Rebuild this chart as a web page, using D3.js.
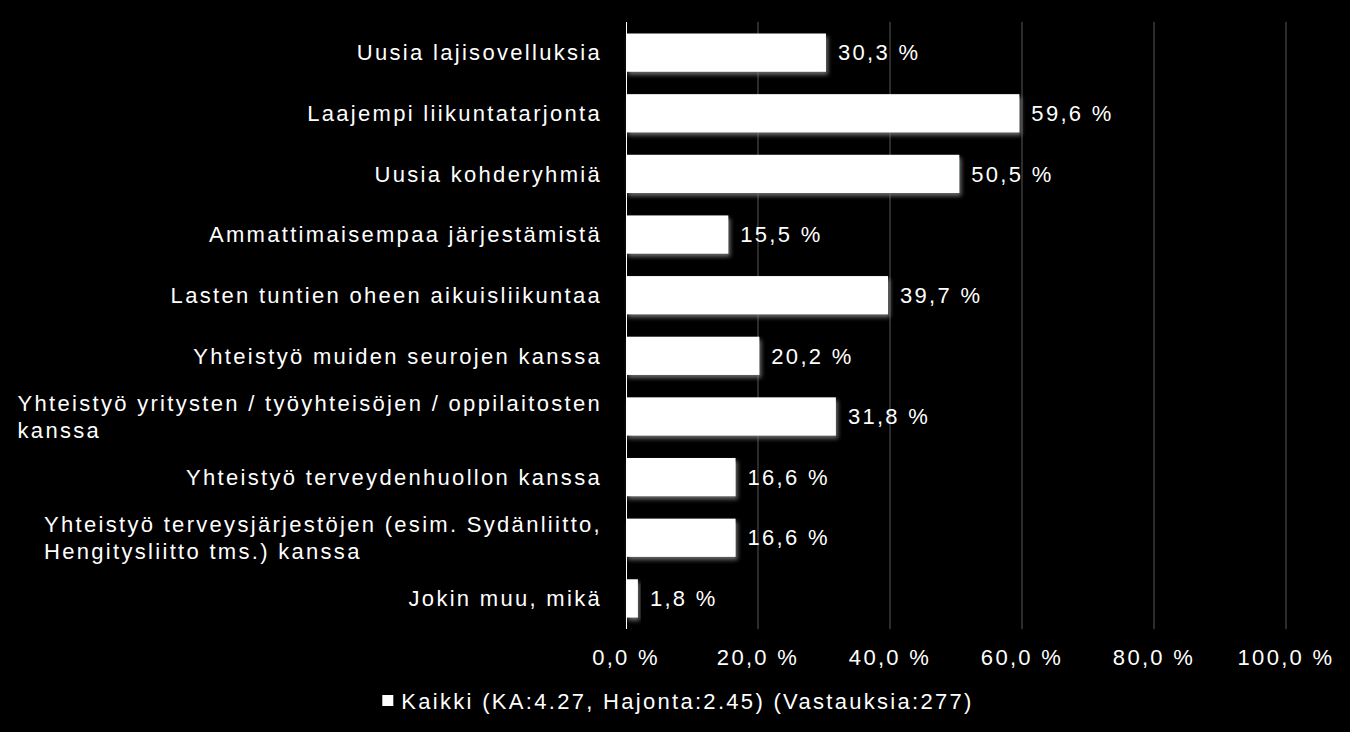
<!DOCTYPE html>
<html>
<head>
<meta charset="utf-8">
<script src="https://cdn.jsdelivr.net/npm/d3@7"></script>
<style>
	body { margin: 0; background: #000; }
	text { font-family: "Liberation Sans", Arial, sans-serif; fill: #fff; }
</style>
</head>
<body>
<div id="chart"></div>
<script>
// categories (each entry = lines of the label)
var categories = [
	["Uusia lajisovelluksia"],
	["Laajempi liikuntatarjonta"],
	["Uusia kohderyhmiä"],
	["Ammattimaisempaa järjestämistä"],
	["Lasten tuntien oheen aikuisliikuntaa"],
	["Yhteistyö muiden seurojen kanssa"],
	["Yhteistyö yritysten / työyhteisöjen / oppilaitosten", "kanssa"],
	["Yhteistyö terveydenhuollon kanssa"],
	["Yhteistyö terveysjärjestöjen (esim. Sydänliitto,", "Hengitysliitto tms.) kanssa"],
	["Jokin muu, mikä"]
];
var values = [30.3, 59.6, 50.5, 15.5, 39.7, 20.2, 31.8, 16.6, 16.6, 1.8];
var ticks = [0, 20, 40, 60, 80, 100];
var seriesName = "Kaikki (KA:4.27, Hajonta:2.45) (Vastauksia:277)";

var margin = { top: 22, right: 64, bottom: 103, left: 626 },
	W = 1350,
	H = 732,
	width = W - margin.left - margin.right,
	height = H - margin.top - margin.bottom;

var fmt = function(v) { return v.toFixed(1).replace(".", ",") + " %"; };

var svg = d3.select("#chart")
	.append("svg")
	.attr("width", W)
	.attr("height", H)
	.style("background", "#000");

// soft shadow under the bars
var defs = svg.append("defs");
defs.append("filter")
	.attr("id", "shadow")
	.attr("x", "-20%").attr("y", "-20%")
	.attr("width", "140%").attr("height", "160%")
	.append("feDropShadow")
	.attr("dx", 2).attr("dy", 3)
	.attr("stdDeviation", 2)
	.attr("flood-color", "#777")
	.attr("flood-opacity", 0.9);

var g = svg.append("g")
	.attr("transform", "translate(" + margin.left + "," + margin.top + ")");

var x = d3.scaleLinear().domain([0, 100]).range([0, width]);
var y = d3.scaleBand()
	.domain(d3.range(categories.length))
	.range([0, height])
	.paddingInner(0.37)
	.paddingOuter(0.19);

// gridlines
g.selectAll(".grid")
	.data(ticks.slice(1))
	.enter()
	.append("line")
	.attr("x1", function(d) { return x(d); })
	.attr("x2", function(d) { return x(d); })
	.attr("y1", 0)
	.attr("y2", height)
	.attr("stroke", "#595959")
	.attr("stroke-width", 1);

// bars
g.selectAll(".bar")
	.data(values)
	.enter()
	.append("rect")
	.attr("x", x(0))
	.attr("y", function(d, i) { return y(i); })
	.attr("width", function(d) { return x(d) - x(0); })
	.attr("height", y.bandwidth())
	.attr("fill", "#fff")
	.attr("filter", "url(#shadow)");

// value axis line
g.append("line")
	.attr("x1", x(0) + 0.5).attr("x2", x(0) + 0.5)
	.attr("y1", 0).attr("y2", height)
	.attr("stroke", "#fff")
	.attr("stroke-width", 1);

var fs = 22, ls = "2.3px";

// value labels
g.selectAll(".val")
	.data(values)
	.enter()
	.append("text")
	.attr("x", function(d) { return x(d) + 12; })
	.attr("y", function(d, i) { return y(i) + y.bandwidth() / 2; })
	.attr("dy", "0.35em")
	.style("font-size", fs + "px")
	.style("letter-spacing", ls)
	.text(fmt);

// category labels: block right-aligned, lines left-aligned
var lineH = 27, labelRight = -24;
categories.forEach(function(lines, i) {
	var cy = y(i) + y.bandwidth() / 2;
	var t = g.append("text")
		.style("font-size", fs + "px")
		.style("letter-spacing", ls);
	var spans = lines.map(function(s, k) {
		return t.append("tspan")
			.attr("y", cy + (k - (lines.length - 1) / 2) * lineH)
			.attr("dy", "0.35em")
			.text(s);
	});
	var maxW = d3.max(spans, function(s) { return s.node().getComputedTextLength(); });
	spans.forEach(function(s) { s.attr("x", labelRight - maxW); });
});

// x axis tick labels
g.selectAll(".tick")
	.data(ticks)
	.enter()
	.append("text")
	.attr("x", function(d) { return x(d); })
	.attr("y", height + 28)
	.attr("dy", "0.35em")
	.attr("text-anchor", "middle")
	.style("font-size", fs + "px")
	.style("letter-spacing", ls)
	.text(fmt);

// legend
var leg = svg.append("g");
var legText = leg.append("text")
	.attr("x", 19)
	.attr("y", 701)
	.attr("dy", "0.35em")
	.style("font-size", fs + "px")
	.style("letter-spacing", ls)
	.text(seriesName);
leg.append("rect")
	.attr("x", 0)
	.attr("y", 695)
	.attr("width", 11)
	.attr("height", 11)
	.attr("fill", "#fff");
var legW = 19 + legText.node().getComputedTextLength();
leg.attr("transform", "translate(" + (678 - legW / 2) + ",0)");
</script>
</body>
</html>
